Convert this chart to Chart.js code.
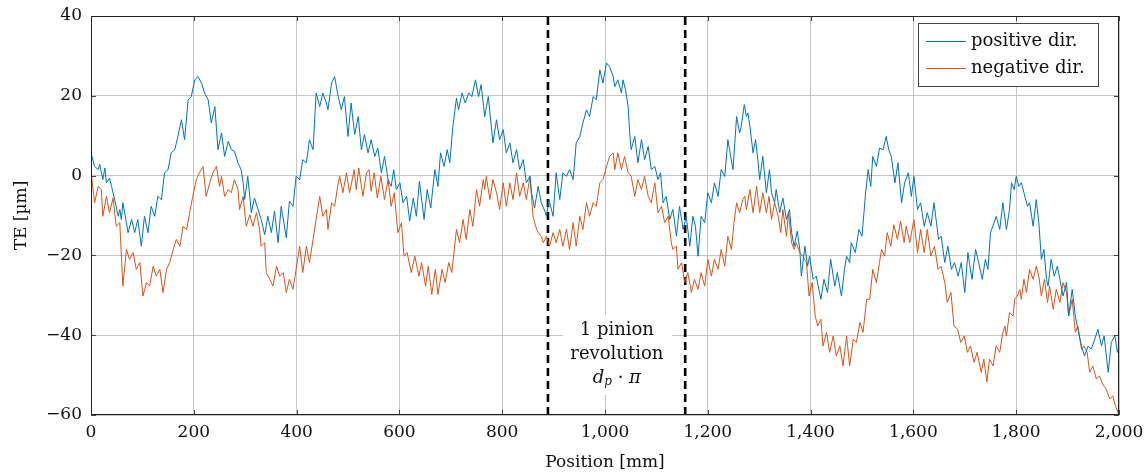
<!DOCTYPE html>
<html>
<head>
<meta charset="utf-8">
<script src="https://cdn.jsdelivr.net/npm/chart.js@4.4.0/dist/chart.umd.min.js"></script>
<style>
  html, body { margin: 0; padding: 0; background: #fff; }
  #wrap { width: 1148px; height: 475px; }
</style>
</head>
<body>
<div id="wrap"><canvas id="teChart" width="1148" height="475"></canvas></div>
<script>
// positive direction: position [mm] and TE [um]
const positivePos = [
  1, 7, 14, 17, 23, 27, 30, 36, 40, 46, 53, 56, 59, 62, 69, 72, 79, 85, 91, 98,
  104, 111, 117, 124, 130, 137, 143, 150, 156, 163, 169, 176, 182, 189, 195, 202, 208, 215, 221, 228,
  234, 241, 247, 254,
  260, 267, 273, 279, 286, 292, 296, 299, 305, 312, 318, 325, 331, 338, 344, 351, 357, 364, 370, 380,
  386, 393, 399, 406, 412, 419, 425, 432, 438, 445, 451, 458, 461, 468, 474, 481, 487, 493, 500, 506,
  513, 520, 526, 532, 539, 545, 552, 558, 565, 571, 578, 584, 589, 594, 601, 607, 614, 620, 627, 633,
  639, 648, 654, 661, 669, 675, 680, 687, 693, 698, 704, 711, 715, 722, 728, 735, 741, 748, 754, 759,
  766, 773, 782, 789, 795, 802, 808, 815, 821, 828, 834, 841, 847, 854, 857, 863, 870, 876, 883, 886,
  891, 899, 905, 912, 918, 925, 931, 938, 944, 951, 957, 964, 970, 977, 983, 990, 996, 1003, 1009, 1016,
  1019, 1025, 1032, 1035, 1040, 1045, 1048, 1051, 1058, 1064, 1071, 1077, 1084, 1090, 1097, 1103, 1108, 1113, 1119, 1126,
  1132, 1139, 1145, 1152, 1158, 1165, 1171, 1176, 1181, 1187, 1194, 1200, 1207, 1213, 1220, 1226, 1233, 1239, 1249, 1256,
  1262,
  1265, 1271, 1275, 1278, 1282, 1288, 1293, 1298, 1301, 1307, 1314, 1320, 1324, 1330, 1333, 1340, 1346, 1353, 1359, 1363,
  1368, 1374, 1379, 1382, 1389, 1394, 1398, 1405, 1411, 1420, 1426, 1433, 1439, 1447, 1452, 1460, 1466, 1470, 1476, 1479,
  1487, 1494, 1500, 1507, 1512, 1517, 1521,
  1528, 1534, 1541, 1547, 1552, 1557, 1564, 1570, 1577, 1583, 1590, 1596, 1601, 1608, 1614, 1621, 1627, 1634, 1640, 1645,
  1649, 1654, 1661, 1667, 1674, 1680, 1687, 1693, 1700, 1706, 1714, 1721, 1727, 1734, 1740, 1745, 1750, 1757, 1761, 1768,
  1774,
  1781, 1787, 1791, 1796, 1800, 1805, 1810, 1815, 1822, 1826, 1830, 1833, 1839, 1844, 1849, 1854, 1859, 1862, 1868, 1874,
  1880, 1885, 1891, 1898, 1902, 1909, 1915, 1920, 1927, 1933, 1940, 1946, 1953, 1959, 1966, 1971, 1979, 1985, 1992, 1997,
  2000
];
const positiveTe = [
  5.2, 2.3, 1.5, 2.8, -1, 1.9, -1.8, -0.6, -2.7, -6, -10.2, -8.5, -11, -6.8, -11.8, -14.3, -11, -14.3, -11, -17.7,
  -10.2, -14.3, -7.7, -10.2, -5.2, -6, 0.7, 1.5, 5.7, 6.5, 9.8, 14, 9, 19, 19.8, 24, 24.8, 23.2, 20.7, 19,
  13.2, 17.3, 6.5, 10.7,
  4.8, 8.6, 6.5, 6.1, 3.2, 1.5, -1.8, -6, -0.2, -9.3, -5.6, -8.5, -11, -14.8, -10.2, -14.3, -8.9, -16.8, -7.7, -15.6,
  -6.4, -7.7, -0.2, -1, 4, 3.2, 9, 6.5, 20.7, 17.3, 20.7, 18.2, 16.5, 23.2, 24.8, 19.8, 16.5, 19.8, 9.8, 18.2,
  10.3, 14.8, 6.5, 10.3, 5.7, 9, 4.8, 6.9, 0.7, 4.8, -1, -2.7, 1.5, -3.5, -1.8, -6.8, -5.2, -11.4, -5.6, -10.2,
  -1.4, -11, -3.5, -8.1, 1.5, -2.7, 5.7, 2.3, 6.5, 3.2, 12.3, 19.4, 16.5, 20.7, 18.2, 20.7, 19.8, 24, 19.8, 22.8,
  14.8, 19.8, 8.2, 14, 9, 11.5, 5.7, 8.2, 3.2, 6.5, 1.5, 4, -1.8, -0.2, -4.3, -8.1, -2.7, -6.8, -8.9, -10.2,
  -6, -10.2, 0.7, -6, 0.7, -0.2, 1.5, -1, 8.2, 9.8, 13.2, 16.5, 14.8, 19.8, 19, 26.5, 23.2, 28.2, 27.3, 24.8,
  22.3, 24, 20.7, 24, 21.5, 17.3, 10.7, 6.5, 9.8, 3.2, 9, 4, 7.3, 1.5, 2.3, -1, 0.7, -6.8, -5.2, -11,
  -8.5, -15.2, -7.7, -13.5, -10.2, -17.7, -10.2, -12.7, -20.2, -10.2, -11.8, -4.3, -6.8, -1.8, -5.2, 1.5, -0.2, 9, 1.5, 14.8,
  10.7,
  12.3, 17.8, 14.8, 15.7, 12.3, 5.7, 9, 3.2, -1, 4.8, -4.3, 1.5, -4.3, -6.8, -3.5, -9.3, -5.6, -11, -8.5, -14.3,
  -17.7, -13.9, -18.5, -25.2, -17.7, -22.7, -20.2, -26, -25.2, -31, -26, -29.3, -21, -27.7, -24.3, -30.2, -23.5, -20.2, -21.8, -16.8,
  -19.3, -13.5, -15.2, -4.3, 1.5, -2.7, 4.8,
  2.3, 6.9, 6.5, 9.8, 6.5, 4.8, -1.8, 3.2, -6.8, -1.8, 0.7, -5.2, -0.2, -8.5, -6.8, -12.7, -9.3, -12.7, -6.8, -11.8,
  -16, -15.2, -21.8, -17.7, -23.5, -21.8, -25.2, -21.8, -29.3, -19.3, -26, -18.5, -21.8, -26, -21, -23.5, -14.3, -11.8, -10.2, -13.5,
  -6.8,
  -13.5, -8.5, -1.8, -3.5, -0.2, -2.7, -1.8, -4.3, -7.7, -6.8, -10.2, -12.7, -6, -11.8, -21, -18.5, -26, -27.7, -21, -25.2,
  -22.7, -26, -30.2, -26.8, -35.2, -28.5, -35.2, -38.5, -42.7, -45.2, -42.7, -43.5, -41, -38.5, -42.7, -40.2, -49.3, -41.8, -40.2, -44.3,
  -42.7
];

// negative direction
const negativePos = [
  1, 7, 14, 20, 23, 30, 36, 43, 49, 56, 62, 69, 75, 82, 88, 95, 101, 108, 114, 121,
  127, 134, 140, 147, 153, 160, 166, 173, 179, 186, 192, 198, 205, 211, 218, 224, 231, 237, 244, 250,
  254, 260, 267, 273, 279, 286, 289, 296, 302, 309, 315, 322, 328, 331, 338, 341, 348, 354, 361, 367,
  374, 380, 386, 393, 399, 406, 412, 419, 425, 432, 438, 445, 451, 458, 461, 468, 474, 481, 484, 490,
  497, 503,
  507, 512, 516, 521, 529, 536, 541, 545, 551, 557, 564, 571, 578, 584, 590, 597, 604, 609, 615, 623,
  630, 638, 643, 651, 656, 663, 670, 675, 683, 689, 696, 702, 711, 717, 724, 730, 737, 743, 750, 756,
  763,
  766, 769, 776, 782, 789, 795, 802, 808, 815, 821, 828, 834, 841, 847, 854, 860, 865, 870, 876, 880,
  886, 892, 899, 905, 912, 918, 925, 931, 938, 944, 951, 957, 964, 970, 977, 983, 990, 996, 1003, 1009,
  1016,
  1019, 1025, 1032, 1038, 1045, 1051, 1058, 1064, 1071, 1077, 1084, 1090, 1097, 1103, 1110, 1116, 1123, 1129, 1132, 1139,
  1142, 1149, 1155, 1161, 1168, 1174, 1181, 1187, 1194, 1200, 1207, 1213, 1220, 1226, 1233, 1239, 1246, 1251, 1256, 1262,
  1268,
  1272, 1275, 1282, 1288, 1295, 1301, 1307, 1314, 1319, 1324, 1330, 1337, 1342, 1346, 1353, 1357, 1363, 1368, 1372, 1379,
  1385, 1392, 1397, 1403, 1409, 1414, 1420, 1424, 1431, 1437, 1444, 1450, 1457, 1463, 1470, 1476, 1483, 1489, 1496, 1502,
  1509, 1515, 1521,
  1528, 1534, 1538, 1544, 1549, 1556, 1562, 1569, 1575, 1582, 1586, 1593, 1601, 1608, 1614, 1621, 1627, 1634, 1641, 1648,
  1654, 1661, 1666, 1673, 1679, 1686, 1692, 1699, 1705, 1711, 1718, 1724, 1732, 1737, 1743, 1748, 1755, 1761, 1768, 1774,
  1778, 1781, 1787, 1794, 1797, 1802, 1807, 1810, 1815, 1820, 1826, 1833, 1839, 1844, 1849, 1855, 1861, 1865, 1872, 1878,
  1885, 1891, 1898, 1902, 1909, 1915, 1920, 1927, 1932, 1938, 1943, 1949, 1956, 1962, 1969, 1975, 1982, 1988, 1993, 1998,
  2000
];
const negativeTe = [
  -0.2, -6.8, -2.7, -3.5, -10.2, -5.2, -9.3, -5.6, -12.7, -11.8, -27.7, -18.5, -21, -19.3, -23.5, -21.8, -30.2, -26.8, -27.7, -22.7,
  -25.2, -23.5, -29.3, -23.5, -21.8, -18.5, -16, -17.7, -12.7, -13.5, -9.3, -5.2, -1, 0.7, 2.3, -5.2, -1.8, 0.7, 2.3, -2.7,
  -0.2, -5.2, -3.5, -4.3, -1, -3.5, -8.5, -5.2, -12.7, -9.8, -12.7, -9.3, -13.5, -17.7, -16.8, -24.3, -26, -27.7, -22.7, -25.2,
  -24.3, -29.3, -26, -28.5, -23.5, -17.7, -24.3, -17.7, -21.8, -16, -11, -5.2, -10.2, -8.5, -13.5, -6.8, -7.7, -1.8, -0.2, -4.3,
  0.7, -4.3,
  -1.8, 1.5, -3.5, 1.9, -5.2, 0.7, 1.5, -3.9, 0.7, -5.6, -0.2, -6, -1, -7.7, -4.3, -14.3, -11.8, -20.2, -19.3, -24.3,
  -20.2, -25.2, -21.8, -27.7, -22.7, -29.8, -23.5, -29.8, -23.5, -26.8, -21.8, -24.3, -13.5, -16.8, -11, -16, -8.5, -12.7, -3.5, -7.7,
  -1,
  -3.5, -0.2, -6, -1, -4.3, -8.5, -1.8, -7.7, -1.8, -6, 0.7, -5.2, -1.8, -6, -0.2, -10.2, -12.7, -14.3, -15.2, -16.8,
  -15.2, -17.7, -14.3, -16.8, -13.5, -17.7, -13.5, -18.5, -11.8, -17.7, -10.2, -13.5, -6.8, -10.2, -6.8, -7.7, -1.8, -1, 2.3, 4.8,
  5.7,
  1.5, 5.7, 1.5, 4.8, 0.7, -0.2, -5.2, -1, -3.5, -0.2, -5.2, -6.8, -1.8, -9.3, -7.7, -11.8, -10.2, -16.8, -18.5, -17.7,
  -23.5, -21.8, -26.8, -24.3, -29.3, -26, -28.5, -24.3, -27.7, -21, -25.2, -21, -23.5, -18.5, -22.7, -15.2, -18.5, -11.8, -6.8, -9.3,
  -6,
  -5.2, -8.5, -3.5, -9.3, -2.7, -9.3, -4.3, -9.3, -5.2, -11, -6.8, -10.2, -14.3, -8.5, -15.2, -9.3, -16.8, -18.5, -16.8, -19.3,
  -20.2, -21.8, -30.2, -26.8, -35.2, -37.7, -36, -42.7, -39.3, -44.3, -40.2, -45.2, -42.7, -47.7, -40.2, -47.7, -41, -41.8, -36.8, -39.3,
  -31, -31, -23.5,
  -26.8, -21.8, -18.5, -20.2, -14.3, -17.7, -12.3, -16, -11.4, -16.8, -12.7, -16.8, -11, -19.3, -13.5, -19.3, -13.5, -20.2, -17.7, -23.5,
  -22.7, -26.8, -31.8, -29.3, -37.7, -38.5, -41.8, -40.2, -44.3, -42.7, -46.8, -44.3, -49.3, -46, -51.7, -46, -47.7, -42.7, -44.3, -39.3,
  -37.7, -40.2, -34.3, -35.2, -31, -30.2, -28.5, -31, -26, -29.3, -23.5, -26, -22.7, -25.2, -30.2, -26, -31.8, -27.7, -33.5, -28.5,
  -31.8, -26.8, -29.3, -35.2, -31, -39.3, -37.7, -43.5, -42.7, -44.3, -49.3, -47.7, -51, -50.2, -52.5, -53.5, -56, -55.2, -57.7, -59.3,
  -59.8
];

const revolutionMarks = [889, 1156]; // mm, one pinion revolution apart
const seriesLabels = ['positive dir.', 'negative dir.'];
const annotationLines = ['1 pinion', 'revolution'];

const BLUE = '#0072BD';
const ORANGE = '#D95319';
const FONT = 'DejaVu Serif';

const toPoints = (xs, ys) => xs.map((x, i) => ({ x: x, y: ys[i] }));

const datasets = [
  { label: seriesLabels[0], data: toPoints(positivePos, positiveTe), borderColor: BLUE, borderWidth: 1 },
  { label: seriesLabels[1], data: toPoints(negativePos, negativeTe), borderColor: ORANGE, borderWidth: 1 }
];
revolutionMarks.forEach(m => {
  datasets.push({
    label: '',
    data: [{ x: m, y: -60 }, { x: m, y: 40 }],
    borderColor: '#000',
    borderWidth: 2.6,
    borderDash: [8, 5]
  });
});

const decorPlugin = {
  id: 'decor',
  beforeDatasetsDraw(chart) {
    const { ctx } = chart;
    const xs = chart.scales.x, ys = chart.scales.y;
    // white box behind the revolution note
    const x0 = xs.getPixelForValue(918), x1 = xs.getPixelForValue(1130);
    const y0 = ys.getPixelForValue(-35), y1 = ys.getPixelForValue(-55);
    ctx.save();
    ctx.fillStyle = '#fff';
    ctx.fillRect(x0, y0, x1 - x0, y1 - y0);
    const cx = xs.getPixelForValue(1023);
    ctx.fillStyle = '#111';
    ctx.textAlign = 'center';
    ctx.textBaseline = 'middle';
    ctx.font = '18px ' + FONT;
    ctx.fillText(annotationLines[0], cx, ys.getPixelForValue(-38.8));
    ctx.fillText(annotationLines[1], cx, ys.getPixelForValue(-44.9));
    // d_p · π
    const yl = ys.getPixelForValue(-50.7);
    const big = 'italic 18px ' + FONT, small = 'italic 12px ' + FONT, norm = '18px ' + FONT;
    ctx.font = big; const wd = ctx.measureText('d').width; const wpi = ctx.measureText('\u03C0').width;
    ctx.font = small; const wp = ctx.measureText('p').width;
    ctx.font = norm; const wdot = ctx.measureText(' \u00B7 ').width;
    let x = cx - (wd + wp + wdot + wpi) / 2;
    ctx.textAlign = 'left';
    ctx.font = big; ctx.fillText('d', x, yl); x += wd;
    ctx.font = small; ctx.fillText('p', x, yl + 4); x += wp;
    ctx.font = norm; ctx.fillText(' \u00B7 ', x, yl); x += wdot;
    ctx.font = big; ctx.fillText('\u03C0', x, yl);
    ctx.restore();
  },
  afterDraw(chart) {
    const { ctx, chartArea: a } = chart;
    const xs = chart.scales.x, ys = chart.scales.y;
    ctx.save();
    // inner tick marks
    ctx.strokeStyle = '#444';
    ctx.lineWidth = 1;
    ctx.beginPath();
    xs.ticks.forEach(t => {
      const px = Math.round(xs.getPixelForValue(t.value)) + 0.5;
      ctx.moveTo(px, a.bottom); ctx.lineTo(px, a.bottom - 5);
      ctx.moveTo(px, a.top); ctx.lineTo(px, a.top + 5);
    });
    ys.ticks.forEach(t => {
      const py = Math.round(ys.getPixelForValue(t.value)) + 0.5;
      ctx.moveTo(a.left, py); ctx.lineTo(a.left + 5, py);
      ctx.moveTo(a.right, py); ctx.lineTo(a.right - 5, py);
    });
    ctx.stroke();
    // frame
    ctx.strokeStyle = '#222';
    ctx.strokeRect(a.left + 0.5, a.top + 0.5, a.right - a.left - 1, a.bottom - a.top - 1);

    // legend
    const lx = 918.5, ly = 23.5, lw = 180, lh = 63;
    ctx.fillStyle = '#fff';
    ctx.fillRect(lx, ly, lw, lh);
    ctx.strokeStyle = '#444';
    ctx.strokeRect(lx, ly, lw, lh);
    ctx.font = '18px ' + FONT;
    ctx.textAlign = 'left';
    ctx.textBaseline = 'middle';
    [41, 68].forEach((yy, i) => {
      const ds = chart.data.datasets[i];
      ctx.strokeStyle = ds.borderColor;
      ctx.beginPath();
      ctx.moveTo(926, yy + 0.5); ctx.lineTo(966, yy + 0.5);
      ctx.stroke();
      ctx.fillStyle = '#111';
      ctx.fillText(ds.label, 971, yy);
    });

    // axis titles
    ctx.font = '17px ' + FONT;
    ctx.fillStyle = '#111';
    ctx.textAlign = 'center';
    ctx.fillText('Position [mm]', (a.left + a.right) / 2, 463);
    ctx.translate(22, (a.top + a.bottom) / 2);
    ctx.rotate(-Math.PI / 2);
    ctx.fillText('TE [\u00B5m]', 0, 0);
    ctx.restore();
  }
};

new Chart(document.getElementById('teChart'), {
  type: 'line',
  data: { datasets },
  options: {
    responsive: false,
    animation: false,
    devicePixelRatio: 1,
    layout: { padding: { top: 16, right: 29, left: 0, bottom: 0 } },
    elements: { point: { radius: 0 }, line: { tension: 0 } },
    plugins: { legend: { display: false }, tooltip: { enabled: false } },
    scales: {
      x: {
        type: 'linear',
        min: 0, max: 2000,
        afterFit: s => { s.height = 60; s.paddingLeft = 0; s.paddingRight = 0; },
        border: { display: false },
        grid: { color: '#c4c4c4', drawTicks: false },
        ticks: {
          stepSize: 200, padding: 7, color: '#111',
          font: { family: FONT, size: 17 },
          maxRotation: 0,
          callback: v => v.toLocaleString('en-US')
        }
      },
      y: {
        min: -60, max: 40,
        afterFit: s => { s.width = 91; s.paddingTop = 0; s.paddingBottom = 0; },
        border: { display: false },
        grid: { color: '#c4c4c4', drawTicks: false },
        ticks: {
          stepSize: 20, padding: 9, color: '#111',
          font: { family: FONT, size: 17 },
          callback: v => (v < 0 ? '\u2212' + Math.abs(v) : String(v))
        }
      }
    }
  },
  plugins: [decorPlugin]
});
</script>
</body>
</html>
